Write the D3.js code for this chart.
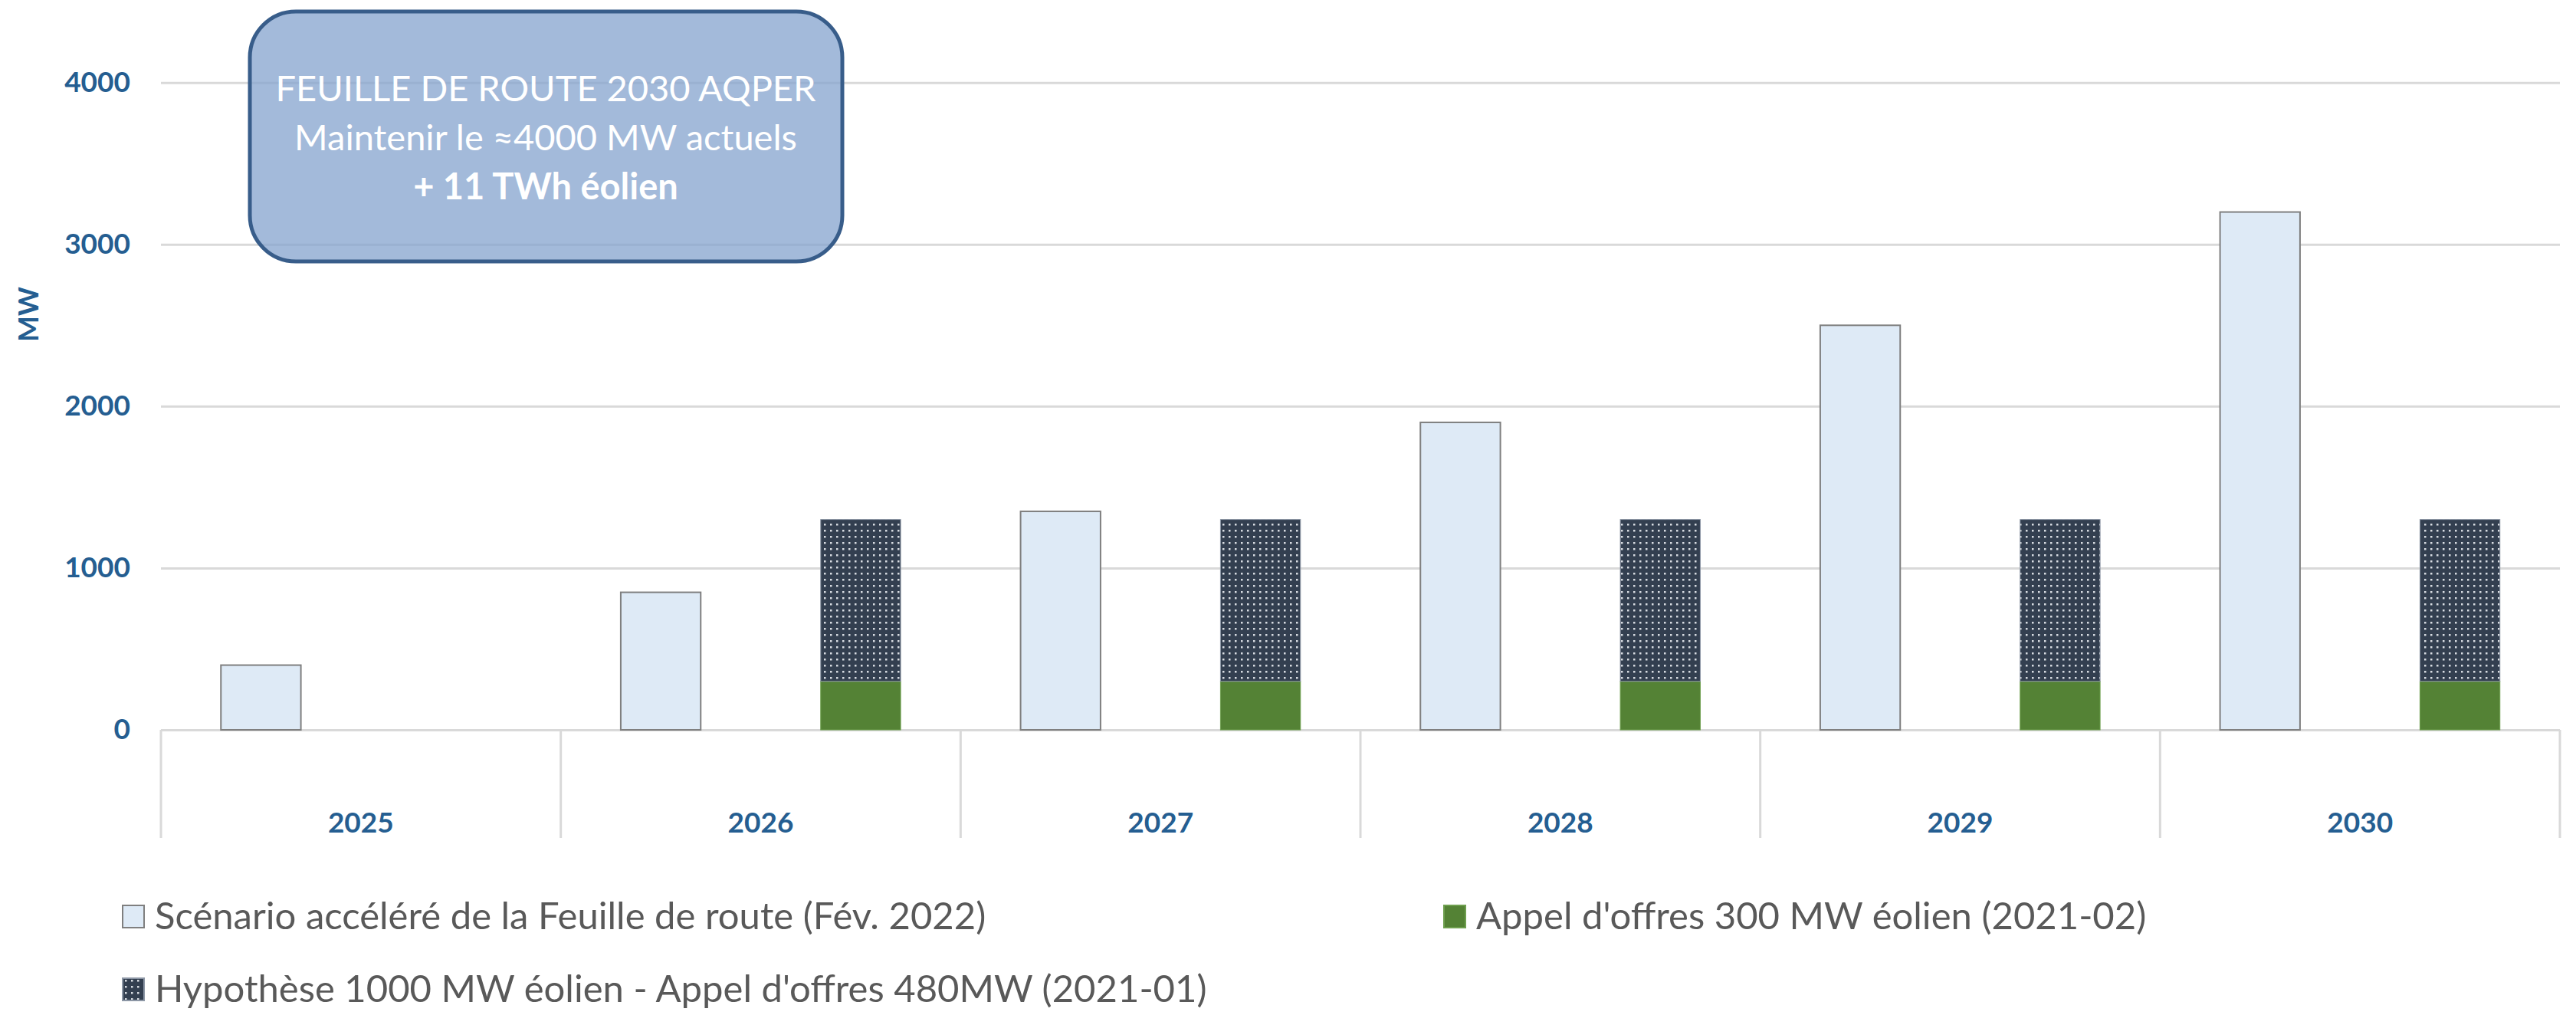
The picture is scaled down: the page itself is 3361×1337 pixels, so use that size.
<!DOCTYPE html>
<html>
<head>
<meta charset="utf-8">
<script src="https://cdn.jsdelivr.net/npm/d3@7"></script>
<style>
    body { margin: 0; background: #ffffff; }
    svg { display: block; }
</style>
</head>
<body>
<div class="content-padded"></div>
<script>

// chart data
const years = ["2025", "2026", "2027", "2028", "2029", "2030"];
const scenarioValues = [400, 850, 1350, 1900, 2500, 3200];
const appel300Values = [0, 300, 300, 300, 300, 300];
const hypothese1000Values = [0, 1000, 1000, 1000, 1000, 1000];
const yTicks = [0, 1000, 2000, 3000, 4000];
const yTitle = "MW";
const legendLabels = [
    "Scénario accéléré de la Feuille de route (Fév. 2022)",
    "Appel d'offres 300 MW éolien (2021-02)",
    "Hypothèse 1000 MW éolien - Appel d'offres 480MW (2021-01)"
];
const calloutLines = [
    "FEUILLE DE ROUTE 2030 AQPER",
    "Maintenir le ≈4000 MW actuels",
    "+ 11 TWh éolien"
];


function ChartView() {
    this.draw();
}

ChartView.prototype.draw = function () {
    let width = 3361;
    let height = 1337;
    let left = 210;
    let right = 3340;
    let zeroY = 952;
    let topY = 107.7;
    let blue = "#255E91";
    let font = "Lato, 'Open Sans', sans-serif";

    let svg = d3.select(".content-padded")
        .append("svg")
        .attr("width", width)
        .attr("height", height)
        .style("background-color", "#ffffff");

    /* dotted fill */
    let pattern = svg.append("defs").append("pattern")
        .attr("id", "dots")
        .attr("patternUnits", "userSpaceOnUse")
        .attr("width", 8)
        .attr("height", 8);
    pattern.append("rect").attr("width", 8).attr("height", 8).attr("fill", "#333F50");
    pattern.append("rect").attr("x", 3).attr("y", 3).attr("width", 2.5).attr("height", 2.5).attr("fill", "#D8DCE2");

    /* Scales */
    let xScale = d3.scaleBand()
        .domain(years)
        .range([left, right]);

    let inner = d3.scaleBand()
        .domain(["scenario", "stack"])
        .range([0, xScale.bandwidth()])
        .paddingInner(0.6)
        .paddingOuter(0.3);

    let yScale = d3.scaleLinear()
        .domain([0, 4000])
        .range([zeroY, topY]);

    /* gridlines */
    svg.append("g")
        .attr("class", "grid")
        .attr("transform", "translate(" + left + ",0)")
        .call(d3.axisLeft(yScale).tickValues(yTicks).tickSize(-(right - left)).tickFormat(""))
        .call(g => g.select(".domain").remove())
        .call(g => g.selectAll("line").attr("stroke", "#D9D9D9").attr("stroke-width", 3));

    /* category dividers under the axis */
    let edges = years.map(d => xScale(d)).concat([right]);
    svg.append("g")
        .selectAll("line")
        .data(edges)
        .join("line")
        .attr("x1", d => d)
        .attr("x2", d => d)
        .attr("y1", zeroY)
        .attr("y2", 1093)
        .attr("stroke", "#D9D9D9")
        .attr("stroke-width", 3);

    /* Y axis labels */
    svg.append("g")
        .attr("transform", "translate(" + left + ",0)")
        .call(d3.axisLeft(yScale).tickValues(yTicks).tickSize(0).tickPadding(40).tickFormat(d3.format("d")))
        .call(g => g.select(".domain").remove())
        .call(g => g.selectAll("text")
            .attr("fill", blue)
            .style("font-family", font)
            .style("font-size", "37px")
            .style("font-weight", "bold"));

    svg.append("text")
        .attr("transform", "translate(36,410) rotate(-90)")
        .attr("text-anchor", "middle")
        .attr("dominant-baseline", "central")
        .attr("fill", blue)
        .style("font-family", font)
        .style("font-size", "36px")
        .style("font-weight", "bold")
        .text(yTitle);

    /* X axis labels */
    svg.append("g")
        .attr("transform", "translate(0," + zeroY + ")")
        .call(d3.axisBottom(xScale).tickSize(0).tickPadding(108))
        .call(g => g.select(".domain").remove())
        .call(g => g.selectAll("text")
            .attr("fill", blue)
            .style("font-family", font)
            .style("font-size", "37px")
            .style("font-weight", "bold"));

    /* scenario bars */
    svg.append("g")
        .selectAll("rect")
        .data(years)
        .join("rect")
        .attr("x", (d) => xScale(d) + inner("scenario"))
        .attr("y", (d, i) => yScale(scenarioValues[i]))
        .attr("width", inner.bandwidth())
        .attr("height", (d, i) => yScale(0) - yScale(scenarioValues[i]))
        .attr("fill", "#DEEAF6")
        .attr("stroke", "#7F7F7F")
        .attr("stroke-width", 2);

    /* stacked bars */
    let rows = years.map((d, i) => ({ year: d, appel: appel300Values[i], hypothese: hypothese1000Values[i] }));
    let stack = d3.stack().keys(["appel", "hypothese"])(rows);
    let fills = { appel: "#548235", hypothese: "url(#dots)" };
    let strokes = { appel: "#6E9F4E", hypothese: "#8C96A5" };

    svg.append("g")
        .selectAll("g")
        .data(stack)
        .join("g")
        .attr("fill", s => fills[s.key])
        .attr("stroke", s => strokes[s.key])
        .attr("stroke-width", 1)
        .selectAll("rect")
        .data(s => s.filter(d => d[1] > d[0]))
        .join("rect")
        .attr("x", d => xScale(d.data.year) + inner("stack"))
        .attr("y", d => yScale(d[1]))
        .attr("width", inner.bandwidth())
        .attr("height", d => yScale(d[0]) - yScale(d[1]));

    /* callout box */
    let callout = svg.append("g");
    callout.append("rect")
        .attr("x", 326)
        .attr("y", 15)
        .attr("width", 773)
        .attr("height", 326)
        .attr("rx", 60)
        .attr("ry", 60)
        .attr("fill", "#84A3CE")
        .attr("fill-opacity", 0.75)
        .attr("stroke", "#385D8A")
        .attr("stroke-width", 5);

    callout.selectAll("text")
        .data(calloutLines)
        .join("text")
        .attr("x", 712)
        .attr("y", (d, i) => 132 + i * 64)
        .attr("text-anchor", "middle")
        .attr("fill", "#ffffff")
        .style("font-family", font)
        .style("font-size", "47px")
        .style("font-weight", (d, i) => i == 2 ? "bold" : "normal")
        .text(d => d);

    /* Legend */
    let legendItems = [
        { label: legendLabels[0], x: 160, y: 1212, fill: "#DEEAF6", stroke: "#7F7F7F" },
        { label: legendLabels[1], x: 1884, y: 1212, fill: "#548235", stroke: "#6E9F4E" },
        { label: legendLabels[2], x: 160, y: 1307, fill: "url(#dots)", stroke: "#8C96A5" }
    ];

    let legend = svg.append("g")
        .selectAll("g")
        .data(legendItems)
        .join("g")
        .attr("transform", d => "translate(" + d.x + "," + d.y + ")");

    legend.append("rect")
        .attr("x", 0)
        .attr("y", -31)
        .attr("width", 28)
        .attr("height", 29)
        .attr("fill", d => d.fill)
        .attr("stroke", d => d.stroke)
        .attr("stroke-width", 2);

    legend.append("text")
        .attr("x", 42)
        .attr("y", 0)
        .attr("fill", "#595959")
        .style("font-family", font)
        .style("font-size", "49px")
        .text(d => d.label);
}

new ChartView();

</script>
</body>
</html>
